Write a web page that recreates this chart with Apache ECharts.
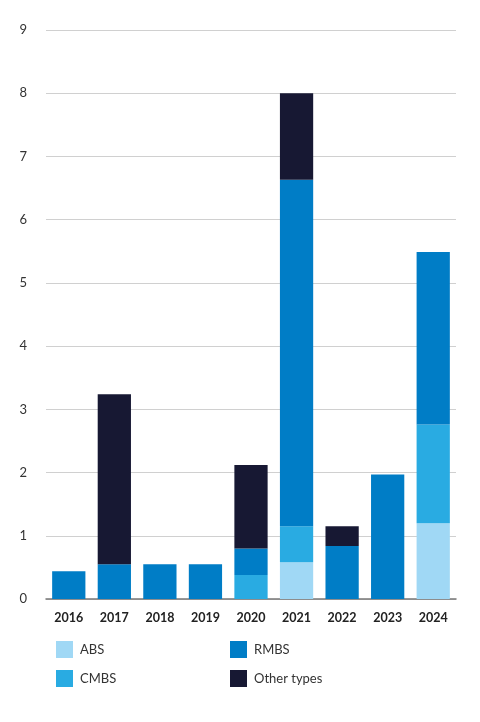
<!DOCTYPE html>
<html>
<head>
<meta charset="utf-8">
<script src="https://cdn.jsdelivr.net/npm/echarts@6/dist/echarts.min.js"></script>
<style>
  html, body { margin: 0; padding: 0; background: #fff; }
  #chart { width: 480px; height: 722px; }
</style>
</head>
<body>
<div id="chart"></div>
<script>
// data
const years = ['2016', '2017', '2018', '2019', '2020', '2021', '2022', '2023', '2024'];
const abs   = [0, 0, 0, 0, 0, 0.58, 0, 0, 1.20];
const cmbs  = [0, 0, 0, 0, 0.38, 0.57, 0, 0, 1.56];
const rmbs  = [0.44, 0.55, 0.55, 0.55, 0.42, 5.48, 0.84, 1.97, 2.73];
const other = [0, 2.69, 0, 0, 1.32, 1.37, 0.31, 0, 0];
const yTicks = [0, 1, 2, 3, 4, 5, 6, 7, 8, 9];

const colors = {
    ABS: '#a0d8f5',
    CMBS: '#29abe2',
    RMBS: '#007dc6',
    'Other types': '#171833'
};

const chart = echarts.init(document.getElementById('chart'));

function bar(name, data) {
    return {
        name: name,
        type: 'bar',
        stack: 'total',
        data: data,
        barCategoryGap: '27%',
        itemStyle: { color: colors[name] }
    };
}

const legendText = { color: '#333', fontSize: 13, fontFamily: 'Lato', padding: [0, 0, 0, 2] };

const option = {
    animation: false,
    textStyle: { fontFamily: 'Lato' },
    grid: { left: 46, right: 24, top: 30, bottom: 123 },
    xAxis: {
        type: 'category',
        data: years,
        axisTick: { show: false },
        axisLine: { lineStyle: { color: '#777', width: 1.5 } },
        axisLabel: { color: '#222', fontWeight: 'bold', fontSize: 12.5, margin: 12 }
    },
    yAxis: {
        type: 'value',
        min: yTicks[0],
        max: yTicks[yTicks.length - 1],
        interval: 1,
        axisLine: { show: false },
        axisTick: { show: false },
        axisLabel: { color: '#333', fontSize: 13, margin: 19 },
        splitLine: { lineStyle: { color: '#d0d0d0', width: 1 } }
    },
    legend: [
        {
            data: ['ABS', 'CMBS'],
            orient: 'vertical',
            left: 51, top: 636,
            itemWidth: 17, itemHeight: 17, itemGap: 12,
            icon: 'rect',
            textStyle: legendText,
            selectedMode: false
        },
        {
            data: ['RMBS', 'Other types'],
            orient: 'vertical',
            left: 225, top: 636,
            itemWidth: 17, itemHeight: 17, itemGap: 12,
            icon: 'rect',
            textStyle: legendText,
            selectedMode: false
        }
    ],
    series: [
        bar('ABS', abs),
        bar('CMBS', cmbs),
        bar('RMBS', rmbs),
        bar('Other types', other)
    ]
};

chart.setOption(option);
</script>
</body>
</html>
